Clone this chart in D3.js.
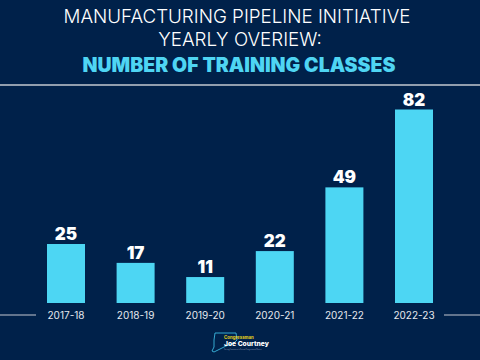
<!DOCTYPE html>
<html><head><meta charset="utf-8">
<script src="https://cdn.jsdelivr.net/npm/d3@7"></script>
<style>html,body{margin:0;padding:0;background:#00214a;}svg{display:block;}</style>
</head><body>
<script>
const categories = ["2017-18","2018-19","2019-20","2020-21","2021-22","2022-23"];
const values = [25,17,11,22,49,82];
const titleLines = ["MANUFACTURING PIPELINE INITIATIVE","YEARLY OVERIEW:"];
const subtitle = "NUMBER OF TRAINING CLASSES";

const W=480,H=360;
const svg=d3.select("body").append("svg").attr("width",W).attr("height",H);
svg.append("rect").attr("width",W).attr("height",H).attr("fill","#00214a");

const font="Inter, 'Open Sans', sans-serif";
function fit(sel,target){const l=sel.node().getComputedTextLength();const fs=parseFloat(sel.attr("font-size"));sel.attr("font-size",fs*target/l);}

const t1=svg.append("text").attr("x",237).attr("y",23).attr("text-anchor","middle").attr("fill","#ffffff")
 .attr("font-family",font).attr("font-weight",300).attr("font-size",17).text(titleLines[0]);
fit(t1,347);
const t2=svg.append("text").attr("x",240).attr("y",46).attr("text-anchor","middle").attr("fill","#ffffff")
 .attr("font-family",font).attr("font-weight",300).attr("font-size",t1.attr("font-size")).text(titleLines[1]);
const t3=svg.append("text").attr("x",239).attr("y",72).attr("text-anchor","middle").attr("fill","#4fd5f3")
 .attr("font-family",font).attr("font-weight",900).attr("font-size",17).text(subtitle);
fit(t3,313);

svg.append("line").attr("x1",0).attr("x2",W).attr("y1",85).attr("y2",85).attr("stroke","#c3c8d0").attr("stroke-width",1.5);

const x=d3.scaleBand().domain(categories).range([31.2,448.8]).paddingInner(0.454).paddingOuter(0.227);
const y=d3.scaleLinear().domain([0,82]).range([303,109.5]);

svg.selectAll("rect.bar").data(values).join("rect").attr("class","bar")
 .attr("x",(d,i)=>x(categories[i])).attr("width",x.bandwidth())
 .attr("y",d=>y(d)).attr("height",d=>y(0)-y(d)).attr("fill","#4dd6f3");

svg.selectAll("text.val").data(values).join("text").attr("class","val")
 .attr("x",(d,i)=>x(categories[i])+x.bandwidth()/2).attr("y",d=>y(d)-4)
 .attr("text-anchor","middle").attr("fill","#ffffff").attr("font-family",font)
 .attr("font-weight",900).attr("font-size",17).text(d=>d);

const axis=d3.axisBottom(x).tickSize(0).tickPadding(0);
const ag=svg.append("g").attr("transform","translate(0,311.5)").call(axis);
ag.select(".domain").remove();
ag.selectAll("text").attr("fill","#e6e9ee").attr("font-family",font).attr("font-size",10).attr("dy","0.71em").attr("y",0);

svg.append("line").attr("x1",0).attr("x2",36).attr("y1",315).attr("y2",315).attr("stroke","#c3c8d0").attr("stroke-width",1.2);
svg.append("line").attr("x1",444).attr("x2",W).attr("y1",315).attr("y2",315).attr("stroke","#c3c8d0").attr("stroke-width",1.2);

// logo
const lg=svg.append("g");
lg.append("path").attr("d","M215,333 L236,333 L237,340 L235,342 L232,344 L226,346 L220,349 L214,352 L212,351 L214,347 L214,340 Z")
 .attr("fill","none").attr("stroke","#3bb8e0").attr("stroke-width",0.9);
const c1=lg.append("text").attr("x",224).attr("y",339).attr("fill","#e8d31a").attr("font-family",font).attr("font-weight",700).attr("font-size",5).text("Congressman");
fit(c1,30);
const c2=lg.append("text").attr("x",224).attr("y",346).attr("fill","#ffffff").attr("font-family",font).attr("font-weight",800).attr("font-size",7).text("Joe Courtney");
fit(c2,45);
const c3=lg.append("text").attr("x",224).attr("y",349.5).attr("fill","#8a9bb5").attr("font-family",font).attr("font-size",2.5).text("Serving Connecticut's Second Congressional District");
fit(c3,38);
</script>
</body></html>
